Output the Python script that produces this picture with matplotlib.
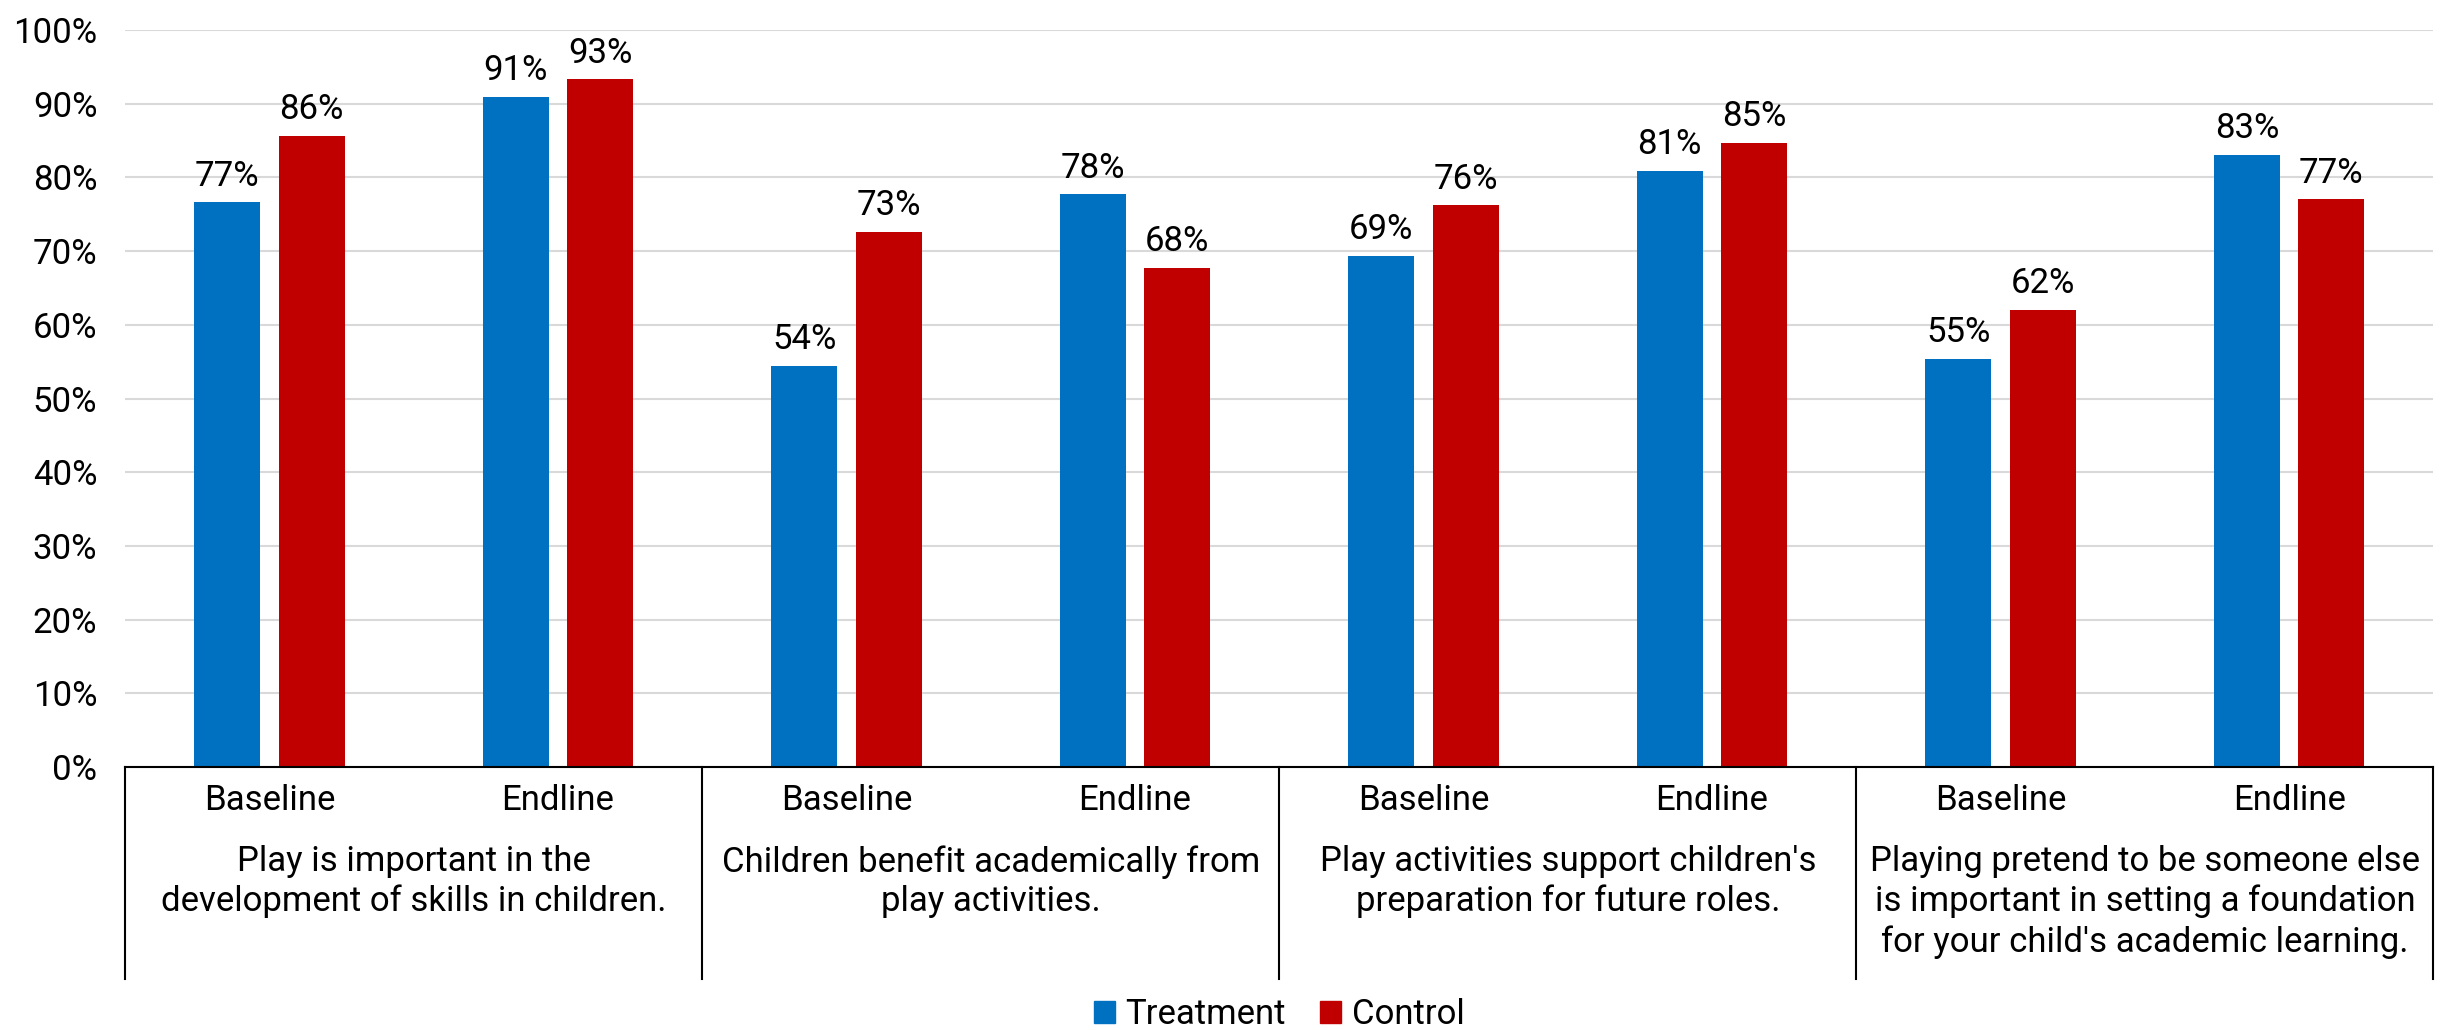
import matplotlib.pyplot as plt
from matplotlib.lines import Line2D
from matplotlib.patches import Patch
import numpy as np

plt.rcParams['font.family'] = ['Roboto', 'DejaVu Sans']

# data
groups = [
    "Play is important in the\ndevelopment of skills in children.",
    "Children benefit academically from\nplay activities.",
    "Play activities support children's\npreparation for future roles.",
    "Playing pretend to be someone else\nis important in setting a foundation\nfor your child's academic learning.",
]
rounds = ["Baseline", "Endline"]
treatment = [76.6, 90.9, 54.4, 77.7, 69.4, 80.9, 55.4, 83.1]
control = [85.6, 93.3, 72.6, 67.7, 76.2, 84.7, 62.0, 77.0]
blue = '#0070C0'
red = '#C00000'

fig = plt.figure(figsize=(24.53, 10.30), dpi=100)
ax = fig.add_axes([0.051, 0.2553, 0.941, 0.7156])

x = np.arange(len(treatment))
w = 0.228
gap = 0.065
off = (w + gap) / 2
b1 = ax.bar(x - off, treatment, w, color=blue, label='Treatment')
b2 = ax.bar(x + off, control, w, color=red, label='Control')

for bars, vals in [(b1, treatment), (b2, control)]:
    for b, v in zip(bars, vals):
        ax.annotate(f"{round(v):d}%", (b.get_x() + b.get_width() / 2, v),
                    xytext=(0, 7), textcoords='offset points',
                    ha='center', va='bottom', fontsize=25)

ax.set_xlim(-0.5, 7.5)
ax.set_ylim(0, 100)
ax.set_yticks(range(0, 101, 10))
ax.set_yticklabels([f"{t}%" for t in range(0, 101, 10)], fontsize=25)
ax.tick_params(axis='y', length=0, pad=20)
ax.yaxis.grid(True, color='#D9D9D9', linewidth=1.5)
ax.set_axisbelow(True)
for s in ['top', 'right', 'left']:
    ax.spines[s].set_visible(False)
ax.spines['bottom'].set_linewidth(1.5)

ax.set_xticks(x)
ax.set_xticklabels(rounds * len(groups), fontsize=25)
ax.tick_params(axis='x', length=0, pad=12)

# category box
trans = ax.get_xaxis_transform()
for xb in np.arange(-0.5, len(treatment), 2):
    ax.add_line(Line2D([xb, xb], [0, -0.287], transform=trans, color='black',
                       linewidth=1.5, clip_on=False))
for i, g in enumerate(groups):
    ax.text(2 * i + 0.5, -0.106, g, transform=trans, ha='center', va='top',
            fontsize=25, linespacing=1.25)

ax.legend(handles=[Patch(color=blue, label='Treatment'), Patch(color=red, label='Control')],
          loc='center', bbox_to_anchor=(0.5, -0.336), ncol=2, frameon=False,
          fontsize=25, handlelength=0.6, handleheight=0.6, handletextpad=0.3,
          columnspacing=1.0)

fig.savefig('out.png', dpi=100)
